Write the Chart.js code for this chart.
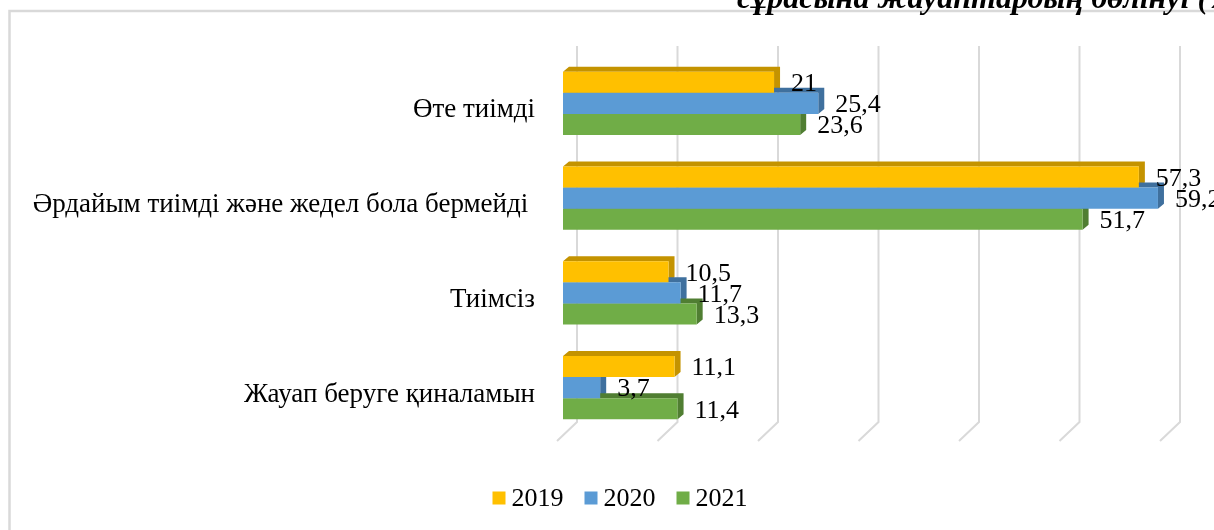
<!DOCTYPE html>
<html>
<head>
<meta charset="utf-8">
<script src="https://cdn.jsdelivr.net/npm/chart.js@4"></script>
<style>
  html, body { margin: 0; padding: 0; background: #fff; }
  #wrap { width: 1214px; height: 530px; }
</style>
</head>
<body>
<div id="wrap"><canvas id="chart" width="1214" height="530"></canvas></div>
<script>
// data
const categories = ['Өте тиімді', 'Әрдайым тиімді және жедел бола бермейді ', 'Тиімсіз', 'Жауап беруге қиналамын'];
const years = ['2019', '2020', '2021'];
const values2019 = [21, 57.3, 10.5, 11.1];
const values2020 = [25.4, 59.2, 11.7, 3.7];
const values2021 = [23.6, 51.7, 13.3, 11.4];
const gridTicks = [0, 10, 20, 30, 40, 50, 60];
const titleText = 'сұрасына жауаптардың бөлінуі (%)';

const frontColors = ['#FFC000', '#5B9BD5', '#70AD47'];
const shadeColors = ['#C49300', '#3F709E', '#507E32'];

const FONT = '"Liberation Serif", "Times New Roman", serif';
const DX = 6, DY = 5; // bar extrusion

const fmt = v => String(v).replace('.', ',');

const depthPlugin = {
  id: 'depth',
  beforeDraw(chart) {
    const ctx = chart.ctx;
    ctx.save();
    // frame
    ctx.strokeStyle = '#d9d9d9';
    ctx.lineWidth = 2.5;
    ctx.beginPath();
    ctx.moveTo(9.5, 530);
    ctx.lineTo(9.5, 11);
    ctx.lineTo(1214, 11);
    ctx.stroke();
    // title (cut off at top)
    ctx.fillStyle = '#000';
    ctx.font = 'bold italic 32px ' + FONT;
    ctx.textBaseline = 'alphabetic';
    ctx.textAlign = 'left';
    ctx.fillText(titleText, 737, 8);
    ctx.restore();
  },
  beforeDatasetsDraw(chart) {
    const ctx = chart.ctx;
    const area = chart.chartArea;
    const xs = chart.scales.x;
    ctx.save();
    // back wall + floor grid
    ctx.strokeStyle = '#d9d9d9';
    ctx.lineWidth = 2;
    gridTicks.forEach(v => {
      const x = xs.getPixelForValue(v);
      ctx.beginPath();
      ctx.moveTo(x - 6, area.bottom + 6);
      ctx.lineTo(x + 14, area.bottom - 13);
      ctx.lineTo(x + 14, area.top - 10);
      ctx.stroke();
    });
    // top and side faces of the bars
    chart.data.datasets.forEach((ds, di) => {
      const meta = chart.getDatasetMeta(di);
      ctx.fillStyle = shadeColors[di];
      meta.data.forEach(bar => {
        const p = bar.getProps(['x', 'y', 'base', 'height'], true);
        const top = p.y - p.height / 2, bottom = p.y + p.height / 2;
        ctx.beginPath();
        ctx.moveTo(p.base, top);
        ctx.lineTo(p.base + DX, top - DY);
        ctx.lineTo(p.x + DX, top - DY);
        ctx.lineTo(p.x + DX, bottom - DY);
        ctx.lineTo(p.x, bottom);
        ctx.lineTo(p.x, top);
        ctx.closePath();
        ctx.fill();
      });
    });
    ctx.restore();
  },
  afterDatasetsDraw(chart) {
    const ctx = chart.ctx;
    ctx.save();
    ctx.fillStyle = '#000';
    ctx.font = '26px ' + FONT;
    ctx.textBaseline = 'middle';
    ctx.textAlign = 'left';
    chart.data.datasets.forEach((ds, di) => {
      chart.getDatasetMeta(di).data.forEach((bar, i) => {
        const p = bar.getProps(['x', 'y'], true);
        ctx.fillText(fmt(ds.data[i]), p.x + 17, p.y + 2);
      });
    });
    ctx.restore();
  },
  afterDraw(chart) {
    // legend
    const ctx = chart.ctx;
    ctx.save();
    ctx.font = '26px ' + FONT;
    ctx.textBaseline = 'middle';
    ctx.textAlign = 'left';
    const box = 13, gapText = 6, gapItem = 21;
    const widths = chart.data.datasets.map(ds => box + gapText + ctx.measureText(ds.label).width);
    const total = widths.reduce((a, b) => a + b, 0) + gapItem * (widths.length - 1);
    let x = 620 - total / 2;
    const cy = 498;
    chart.data.datasets.forEach((ds, di) => {
      ctx.fillStyle = ds.backgroundColor;
      ctx.fillRect(x, cy - box / 2, box, box);
      ctx.fillStyle = '#000';
      ctx.fillText(ds.label, x + box + gapText, cy + 1);
      x += widths[di] + gapItem;
    });
    ctx.restore();
  }
};

new Chart(document.getElementById('chart'), {
  type: 'bar',
  data: {
    labels: categories,
    datasets: [
      { label: years[0], data: values2019, backgroundColor: frontColors[0] },
      { label: years[1], data: values2020, backgroundColor: frontColors[1] },
      { label: years[2], data: values2021, backgroundColor: frontColors[2] }
    ]
  },
  options: {
    indexAxis: 'y',
    responsive: false,
    animation: false,
    categoryPercentage: 0.67,
    barPercentage: 1,
    borderWidth: 0,
    layout: {
      padding: { top: 56, right: 48, bottom: 95, left: 0 }
    },
    plugins: {
      legend: { display: false },
      tooltip: { enabled: false }
    },
    scales: {
      x: {
        display: false,
        min: 0,
        max: 60
      },
      y: {
        grid: { display: false },
        border: { display: false },
        afterFit: (scale) => { scale.width = 563; },
        ticks: {
          padding: 20,
          labelOffset: 7,
          color: '#000',
          font: { family: FONT, size: 27 }
        }
      }
    }
  },
  plugins: [depthPlugin]
});
</script>
</body>
</html>
